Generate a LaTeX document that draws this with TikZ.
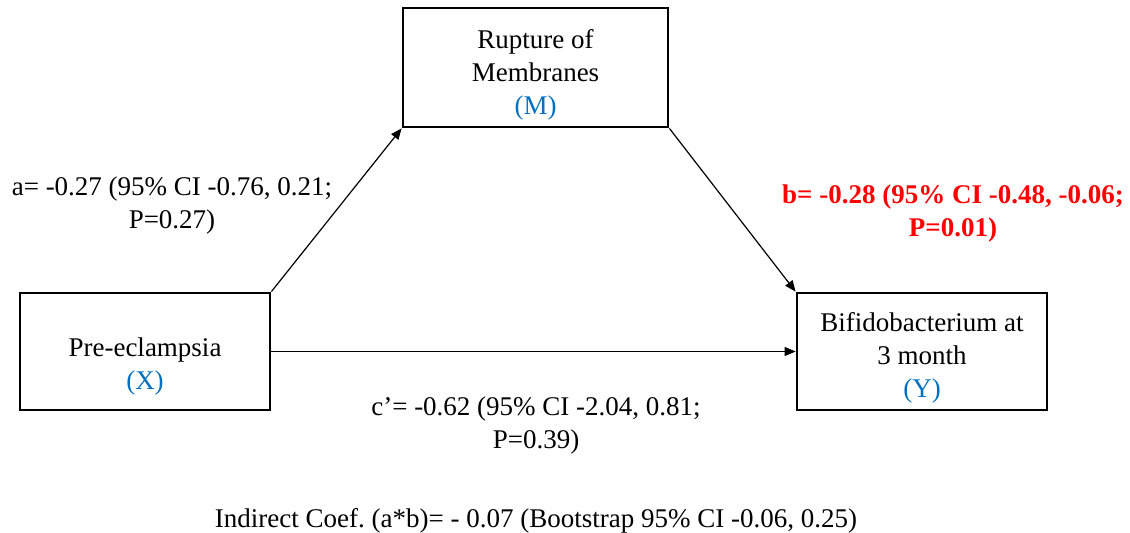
\documentclass[tikz,border=0pt]{standalone}
\usepackage{fontspec}
\setmainfont{Liberation Serif}
\usetikzlibrary{arrows.meta,positioning}
\definecolor{varblue}{RGB}{0,112,192}
\definecolor{sigred}{RGB}{255,0,0}
\frenchspacing

\begin{document}
\begin{tikzpicture}[x=0.5pt, y=-0.5pt, font=\fontsize{13.5}{16.5}\selectfont,
    var/.style={draw, line width=1.4pt, inner sep=0pt},
    path/.style={line width=0.6pt, -{Triangle[length=5.5pt,width=4.5pt]}},
    coef/.style={align=center, inner sep=0pt}]
    \useasboundingbox (0,0) rectangle (1130,533);

    % variables
    \node (M) at (535.5,67.5) [var, minimum width=132.5pt, minimum height=59.5pt] {};
    \node (X) at (145,351.5) [var, minimum width=125pt, minimum height=58.5pt] {};
    \node (Y) at (922,351.5) [var, minimum width=125pt, minimum height=58.5pt] {};
    \node (Mtext) at ([yshift=-3.5pt]M.center) [coef]
      {Rupture of\\Membranes\\\textcolor{varblue}{(M)}};
    \node (Xtext) at ([yshift=-7.5pt]X.center) [coef]
      {Pre-eclampsia\\\textcolor{varblue}{(X)}};
    \node (Ytext) at ([yshift=-3pt]Y.center) [coef]
      {Bifidobacterium at\\3 month\\\textcolor{varblue}{(Y)}};

    % paths a, b and c'
    \draw[path] (X.north east) -- (M.south west);
    \draw[path] (M.south east) -- (Y.north west);
    \draw[path] (X.east) -- (Y.west);

    \node (a) at (172,206) [coef] {a= -0.27 (95\% CI -0.76, 0.21;\\P=0.27)};
    \node (b) at (953,214) [coef, text=sigred, font=\fontsize{13.5}{16.5}\selectfont\bfseries]
      {b= -0.28 (95\% CI -0.48, -0.06;\\P=0.01)};
    \node (c) at (536,426) [coef] {c’= -0.62 (95\% CI -2.04, 0.81;\\P=0.39)};
    \node (ab) at (536,521) [coef] {Indirect Coef. (a*b)= - 0.07 (Bootstrap 95\% CI -0.06, 0.25)};
\end{tikzpicture}
\end{document}
